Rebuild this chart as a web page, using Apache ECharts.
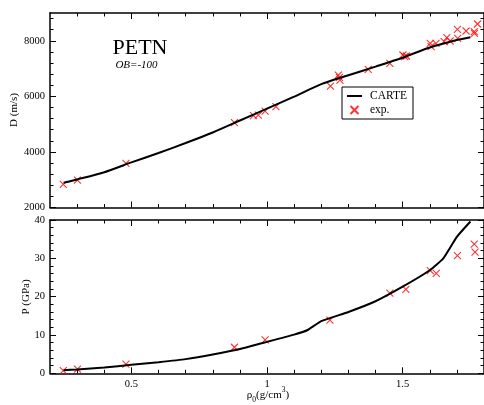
<!DOCTYPE html>
<html>
<head>
<meta charset="utf-8">
<script src="https://cdn.jsdelivr.net/npm/echarts@6/dist/echarts.min.js"></script>
<style>
html,body{margin:0;padding:0;background:#fff;}
#chart{width:484px;height:405px;}
</style>
</head>
<body>
<div id="chart"></div>
<script>
// ---- data ----
var rhoCarteD = [0.25,0.3,0.4,0.5,0.6,0.7,0.8,0.9,1.0,1.1,1.2,1.3,1.4,1.5,1.6,1.7,1.75];
var dCarte    = [2890,3010,3270,3625,3960,4320,4700,5130,5560,5990,6440,6760,7070,7390,7760,8030,8130];

var rhoExpD = [0.249,0.301,0.48,0.88,0.95,0.968,0.993,1.033,1.234,1.263,1.267,1.269,1.373,1.453,1.501,1.508,1.514,1.602,1.605,1.623,1.653,1.663,1.675,1.702,1.703,1.734,1.764,1.765,1.776];
var dExp    = [2833,2988,3589,5051,5303,5328,5472,5627,6372,6768,6685,6588,6973,7189,7488,7427,7452,7909,7787,7909,7967,8111,7992,8413,8089,8352,8327,8269,8604];

var rhoCarteP = [0.25,0.3,0.4,0.5,0.6,0.7,0.8,0.9,1.0,1.1,1.15,1.2,1.3,1.4,1.5,1.6,1.65,1.7,1.75];
var pCarte    = [0.8,1.0,1.5,2.2,2.9,3.7,4.9,6.35,8.2,10.1,11.3,13.6,16.0,18.8,22.6,26.9,30.0,35.6,39.6];

var rhoExpP = [0.249,0.301,0.48,0.88,0.993,1.232,1.453,1.512,1.602,1.624,1.702,1.764,1.767];
var pExp    = [0.7,1.1,2.4,6.8,8.7,13.9,20.9,21.9,26.8,26.1,30.7,33.7,31.6];

// ---- ticks ----
var xMajorTicks = [0.5,1,1.5];
var xMinorTicks = [0.3,0.4,0.6,0.7,0.8,0.9,1.1,1.2,1.3,1.4,1.6,1.7];
var dMajorTicks = [2000,4000,6000,8000];
var dMinorTicks = [2400,2800,3200,3600,4400,4800,5200,5600,6400,6800,7200,7600,8400,8800];
var pMajorTicks = [0,10,20,30,40];
var pMinorTicks = [2,4,6,8,12,14,16,18,22,24,26,28,32,34,36,38];

var FONT = '"Liberation Serif", "Times New Roman", serif';

function zip(a,b){ var r=[]; for(var i=0;i<a.length;i++) r.push([a[i],b[i]]); return r; }

function makeAxis(grid, pos, min, max, ticks, len, line, labels){
  return {
    gridIndex: grid, type:'value', position: pos, min: min, max: max,
    axisLine: {show: line, onZero:false, lineStyle:{color:'#000', width:1.5}},
    axisTick: {show:true, inside:true, length: len, customValues: ticks, lineStyle:{color:'#000', width:1}},
    axisLabel: {show: labels, customValues: ticks, margin:5, fontFamily: FONT, fontSize:10.5, color:'#000',
      formatter: function(v){ return String(v); }},
    splitLine: {show:false}, minorTick:{show:false}
  };
}

var xAxes = [], yAxes = [];
[0,1].forEach(function(g){
  xAxes.push(makeAxis(g,'bottom',0.2,1.8,xMajorTicks,6,true,g===1));
  xAxes.push(makeAxis(g,'bottom',0.2,1.8,xMinorTicks,3.5,false,false));
  xAxes.push(makeAxis(g,'top',0.2,1.8,xMajorTicks,6,true,false));
  xAxes.push(makeAxis(g,'top',0.2,1.8,xMinorTicks,3.5,false,false));
});
yAxes.push(makeAxis(0,'left',2000,9000,dMajorTicks,6,true,true));
yAxes.push(makeAxis(0,'left',2000,9000,dMinorTicks,3.5,false,false));
yAxes.push(makeAxis(0,'right',2000,9000,dMajorTicks,6,true,false));
yAxes.push(makeAxis(0,'right',2000,9000,dMinorTicks,3.5,false,false));
yAxes.push(makeAxis(1,'left',0,40,pMajorTicks,6,true,true));
yAxes.push(makeAxis(1,'left',0,40,pMinorTicks,3.5,false,false));
yAxes.push(makeAxis(1,'right',0,40,pMajorTicks,6,true,false));
yAxes.push(makeAxis(1,'right',0,40,pMinorTicks,3.5,false,false));

var crossSymbol = 'path://M0,0L10,10M10,0L0,10';
var crossStyle = {color:'rgba(0,0,0,0)', borderColor:'#ff0000', borderWidth:1.1};

var chart = echarts.init(document.getElementById('chart'), null, {renderer:'canvas'});
chart.setOption({
  animation:false,
  backgroundColor:'#fff',
  grid:[
    {left:50, top:13, width:439, height:194.5},
    {left:50, top:220, width:439, height:153.3}
  ],
  xAxis: xAxes,
  yAxis: yAxes,
  legend:{
    orient:'vertical', left:342, top:87,
    borderColor:'#000', borderWidth:1, padding:[3,6,3,5],
    itemWidth:15, itemHeight:8, itemGap:2,
    textStyle:{fontFamily:FONT, fontSize:11.5, color:'#000', padding:[0,0,0,3]},
    data:[
      {name:'CARTE', icon:'path://M0,0H30V4H0Z'},
      {name:'exp.'}
    ]
  },
  series:[
    {name:'CARTE', type:'line', xAxisIndex:0, yAxisIndex:0, data: zip(rhoCarteD,dCarte), symbol:'none', smooth:0.25, lineStyle:{color:'#000', width:2}, itemStyle:{color:'#000'}},
    {name:'exp.', type:'scatter', xAxisIndex:0, yAxisIndex:0, data: zip(rhoExpD,dExp), symbol:crossSymbol, symbolSize:7, itemStyle:crossStyle},
    {name:'CARTE', type:'line', xAxisIndex:4, yAxisIndex:4, data: zip(rhoCarteP,pCarte), symbol:'none', smooth:0.15, lineStyle:{color:'#000', width:2}, itemStyle:{color:'#000'}},
    {name:'exp.', type:'scatter', xAxisIndex:4, yAxisIndex:4, data: zip(rhoExpP,pExp), symbol:crossSymbol, symbolSize:7, itemStyle:crossStyle}
  ],
  graphic:[
    {type:'text', x:140, y:48.5, style:{text:'PETN', font:'22px '+FONT, fill:'#000', textAlign:'center', textVerticalAlign:'middle'}},
    {type:'text', x:136.5, y:65, style:{text:'OB=-100', font:'italic 11px '+FONT, fill:'#000', textAlign:'center', textVerticalAlign:'middle'}},
    {type:'text', x:14, y:110, rotation:Math.PI/2, style:{text:'D (m/s)', font:'11px '+FONT, fill:'#000', textAlign:'center', textVerticalAlign:'middle'}},
    {type:'text', x:26, y:297, rotation:Math.PI/2, style:{text:'P (GPa)', font:'11px '+FONT, fill:'#000', textAlign:'center', textVerticalAlign:'middle'}},
    {type:'text', x:268, y:395, style:{
      text:'{a|ρ}{sub|0}{a|(g/cm}{sup|3}{a|)}',
      textAlign:'center', textVerticalAlign:'middle',
      rich:{
        a:{fontFamily:FONT, fontSize:11, lineHeight:18, fill:'#000'},
        sub:{fontFamily:FONT, fontSize:7.5, lineHeight:10, verticalAlign:'bottom', fill:'#000'},
        sup:{fontFamily:FONT, fontSize:7.5, lineHeight:10, verticalAlign:'top', fill:'#000'}
      }
    }}
  ]
});
</script>
</body>
</html>
